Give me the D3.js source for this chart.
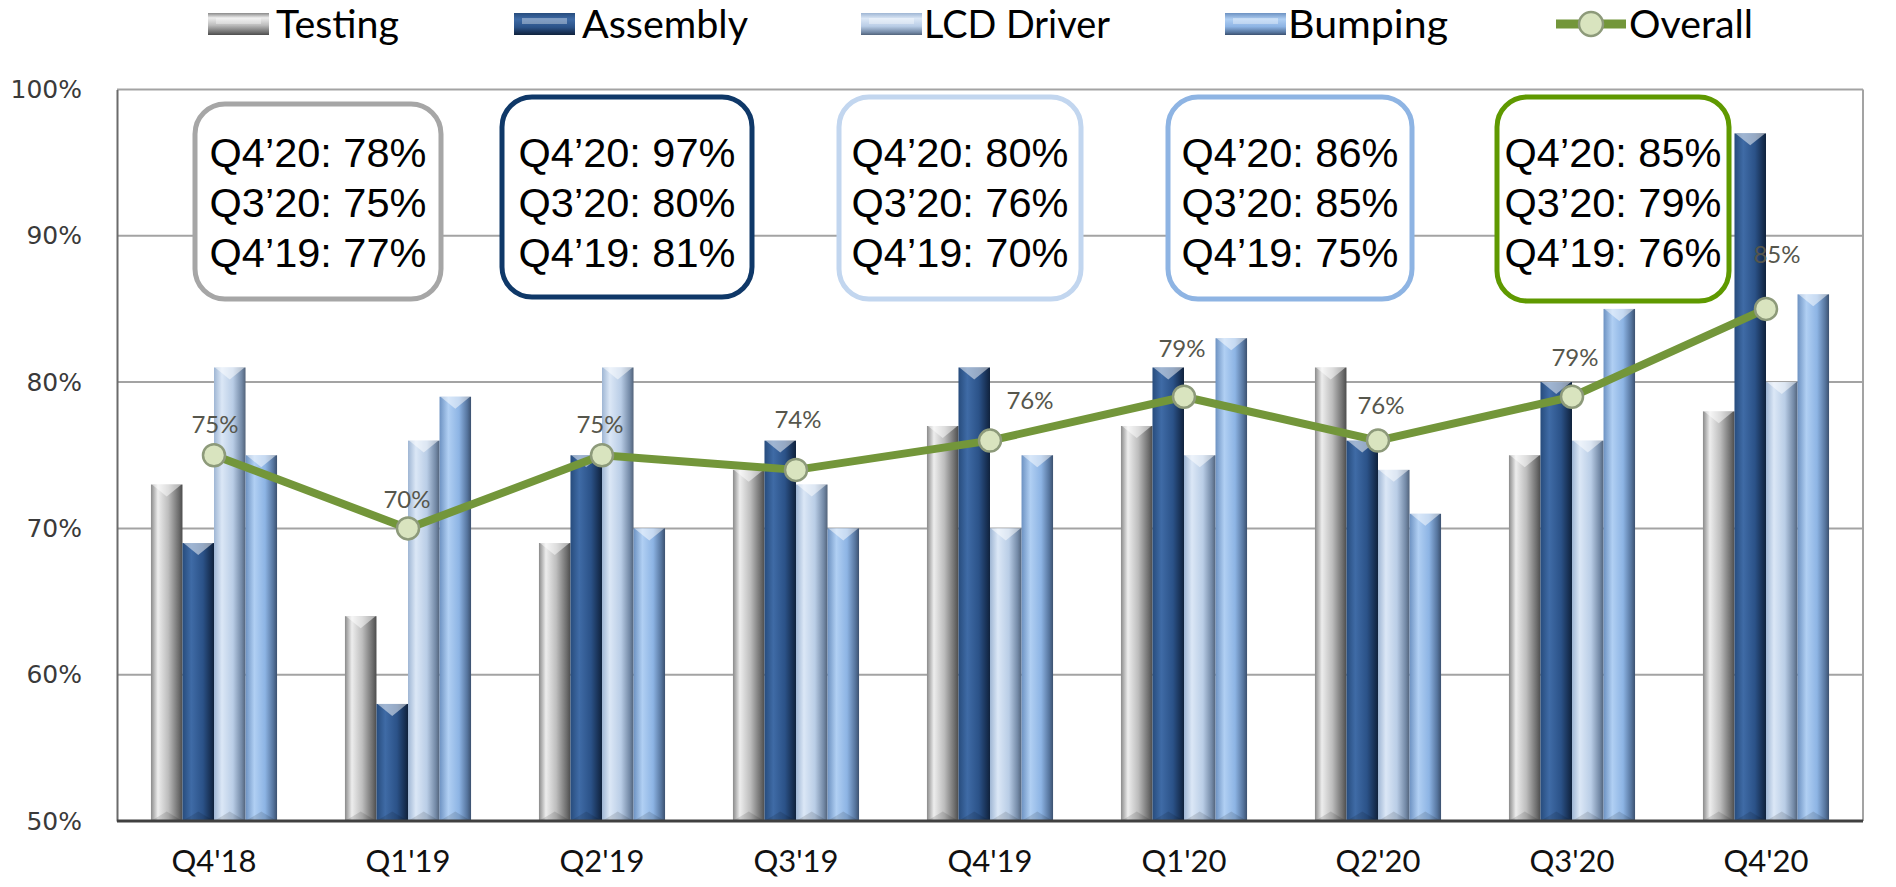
<!DOCTYPE html>
<html><head><meta charset="utf-8">
<script src="https://cdn.jsdelivr.net/npm/d3@7"></script>
<style>body{margin:0;background:#fff;} svg{display:block}</style>
</head><body><svg id="c" width="1896" height="887"></svg>
<script>
// ---- data ----
const categories = ["Q4'18","Q1'19","Q2'19","Q3'19","Q4'19","Q1'20","Q2'20","Q3'20","Q4'20"];
const seriesNames = ["Testing","Assembly","LCD Driver","Bumping"];
const testing   = [73,64,69,74,77,77,81,75,78];
const assembly  = [69,58,75,76,81,81,76,80,97];
const lcdDriver = [81,76,81,73,70,75,74,76,80];
const bumping   = [75,79,70,70,75,83,71,85,86];
const overall   = [75,70,75,74,76,79,76,79,85];
const yTicks = [50,60,70,80,90,100];
const calloutPeriods = ["Q4’20","Q3’20","Q4’19"];
const calloutIndex = [8,7,4];

// ---- layout / style ----
const plot = {left:117, right:1863, top:89.5, bottom:821};
const svg = d3.select("#c");
const seriesValues = [testing, assembly, lcdDriver, bumping];
const gradStops = [
  [["0%","#8a8a8a"],["22%","#ededed"],["55%","#bdbdbd"],["88%","#6d6d6d"],["100%","#4d4d4d"]],
  [["0%","#274c7d"],["28%","#3f6ba6"],["65%","#2b5288"],["90%","#172f52"],["100%","#10223c"]],
  [["0%","#9fb6d4"],["25%","#dbe7f6"],["60%","#b9cde6"],["88%","#7389a6"],["100%","#52637a"]],
  [["0%","#6d92c2"],["28%","#b0cff3"],["62%","#8db4e4"],["88%","#56759e"],["100%","#3c516f"]]
];
const boxColors = ["#a6a6a6","#0f3868","#c2d6ef","#8eb4e3","#5f9900"];
const boxLayout = [ // center x, width, top, bottom
  [318,246,104,299],[627,250,97,297],[960,242,97,299],[1290,244,97,299],[1613,232,97,301]
];
const labelNudge = [[1,-31],[-1,-29],[-2,-31],[2,-50],[40,-40],[-2,-48],[3,-35],[3,-39],[11,-54]];
const legendLayout = [ // swatch x, text x, text width
  [208,276,123],[514,582,166],[861,924,186],[1225,1288,160]
];
const overallLegend = {x1:1556, x2:1626, cx:1591, tx:1629, tw:124};

// ---- scales ----
const x0 = d3.scaleBand().domain(categories).range([plot.left, plot.right]).paddingInner(0.35).paddingOuter(0.175);
const x1 = d3.scaleBand().domain(seriesNames).range([0, x0.bandwidth()]);
const y = d3.scaleLinear().domain([50,100]).range([plot.bottom, plot.top]);

// gradients
const defs = svg.append("defs");
gradStops.forEach((stops,i)=>{
  const g = defs.append("linearGradient").attr("id","gh"+i).attr("x1","0").attr("x2","1").attr("y1","0").attr("y2","0");
  stops.forEach(s=>g.append("stop").attr("offset",s[0]).attr("stop-color",s[1]));
  const gv = defs.append("linearGradient").attr("id","gv"+i).attr("x1","0").attr("x2","0").attr("y1","0").attr("y2","1");
  stops.forEach(s=>gv.append("stop").attr("offset",s[0]).attr("stop-color",s[1]));
});

// gridlines
svg.append("g").selectAll("line").data(yTicks.filter(t=>t>50)).join("line")
  .attr("x1",plot.left).attr("x2",plot.right)
  .attr("y1",d=>y(d)).attr("y2",d=>y(d))
  .attr("stroke","#a3a3a3").attr("stroke-width",2);
svg.append("line").attr("x1",plot.right).attr("x2",plot.right).attr("y1",plot.top).attr("y2",plot.bottom)
  .attr("stroke","#a3a3a3").attr("stroke-width",2);

// y axis
const yAxis = d3.axisLeft(y).tickValues(yTicks).tickSize(0).tickPadding(35).tickFormat(d=>d+"%");
const ya = svg.append("g").attr("transform",`translate(${plot.left},0)`).call(yAxis);
ya.select(".domain").attr("stroke","#6b6b6b").attr("stroke-width",2);
ya.selectAll("text").attr("font-family","DejaVu Sans, Verdana, sans-serif").attr("font-size",25).attr("fill","#3a3a3a");

// callout boxes
boxLayout.forEach((b,i)=>{
  const vals = i<4 ? seriesValues[i] : overall;
  const g = svg.append("g");
  g.append("rect").attr("x",b[0]-b[1]/2).attr("y",b[2]).attr("width",b[1]).attr("height",b[3]-b[2])
    .attr("rx",30).attr("ry",30).attr("fill","#fff").attr("stroke",boxColors[i]).attr("stroke-width",5);
  g.selectAll("text").data(calloutPeriods).join("text")
    .attr("x",b[0]).attr("y",(d,j)=>167+j*50)
    .attr("text-anchor","middle").attr("font-family","Liberation Sans, Arial, sans-serif").attr("font-size",41.5)
    .attr("fill","#000").text((d,j)=>`${d}: ${vals[calloutIndex[j]]}%`);
});

// bars
const groups = svg.append("g").selectAll("g").data(categories).join("g")
  .attr("transform",d=>`translate(${x0(d)},0)`);
seriesNames.forEach((s,si)=>{
  const vals = seriesValues[si];
  const bw = x1.bandwidth();
  groups.each(function(c,ci){
    const g = d3.select(this);
    const bx = x1(s), by = y(vals[ci]), bh = plot.bottom - by;
    g.append("rect").attr("x",bx).attr("y",by).attr("width",bw).attr("height",bh).attr("fill",`url(#gh${si})`);
    g.append("polygon").attr("points",`${bx+1},${by} ${bx+bw-1},${by} ${bx+bw/2},${by+bw*0.38}`)
      .attr("fill","#ffffff").attr("opacity",0.5);
    g.append("polygon").attr("points",`${bx},${plot.bottom} ${bx+bw},${plot.bottom} ${bx+bw/2},${plot.bottom-bw*0.3}`)
      .attr("fill","#000").attr("opacity",0.12);
  });
});

// x axis
svg.append("line").attr("x1",plot.left).attr("x2",plot.right).attr("y1",plot.bottom).attr("y2",plot.bottom)
  .attr("stroke","#404040").attr("stroke-width",3);
const xAxis = d3.axisBottom(x0).tickSize(0).tickPadding(0);
const xa = svg.append("g").attr("transform",`translate(0,${plot.bottom})`).call(xAxis);
xa.select(".domain").remove();
xa.selectAll("text").attr("y",51).attr("dy",null).attr("font-family","Lato, sans-serif").attr("font-size",31).attr("fill","#111");

// overall line
const cx = (d,i)=>x0(categories[i]) + x0.bandwidth()/2;
const line = d3.line().x((d,i)=>cx(d,i)).y(d=>y(d));
svg.append("path").datum(overall).attr("d",line).attr("fill","none")
  .attr("stroke","#73963a").attr("stroke-width",8).attr("stroke-linejoin","round");
svg.append("g").selectAll("circle").data(overall).join("circle")
  .attr("cx",(d,i)=>cx(d,i)).attr("cy",d=>y(d)).attr("r",11)
  .attr("fill","#d9e4bf").attr("stroke","#8d9a7a").attr("stroke-width",2.5);
svg.append("g").selectAll("text").data(overall).join("text")
  .attr("x",(d,i)=>cx(d,i)+labelNudge[i][0]).attr("y",(d,i)=>y(d)+labelNudge[i][1])
  .attr("dy","0.35em").attr("text-anchor","middle")
  .attr("font-family","Lato, sans-serif").attr("font-size",24).attr("fill","#56564c")
  .text(d=>d+"%");

// legend
const lg = svg.append("g");
seriesNames.forEach((name,i)=>{
  const L = legendLayout[i];
  lg.append("rect").attr("x",L[0]).attr("y",13).attr("width",61).attr("height",22).attr("fill",`url(#gv${i})`);
  lg.append("rect").attr("x",L[0]+8).attr("y",18).attr("width",45).attr("height",6).attr("fill","#fff").attr("opacity",0.35);
  lg.append("text").attr("x",L[1]).attr("y",38).attr("font-family","Lato, sans-serif").attr("font-size",38)
    .attr("textLength",L[2]).attr("lengthAdjust","spacingAndGlyphs")
    .attr("fill","#000").text(name);
});
lg.append("line").attr("x1",overallLegend.x1).attr("x2",overallLegend.x2).attr("y1",24).attr("y2",24).attr("stroke","#73963a").attr("stroke-width",9);
lg.append("circle").attr("cx",overallLegend.cx).attr("cy",24).attr("r",12).attr("fill","#d9e4bf").attr("stroke","#8d9a7a").attr("stroke-width",2.5);
lg.append("text").attr("x",overallLegend.tx).attr("y",38).attr("font-family","Lato, sans-serif").attr("font-size",38)
  .attr("textLength",overallLegend.tw).attr("lengthAdjust","spacingAndGlyphs").attr("fill","#000").text("Overall");
</script></body></html>
